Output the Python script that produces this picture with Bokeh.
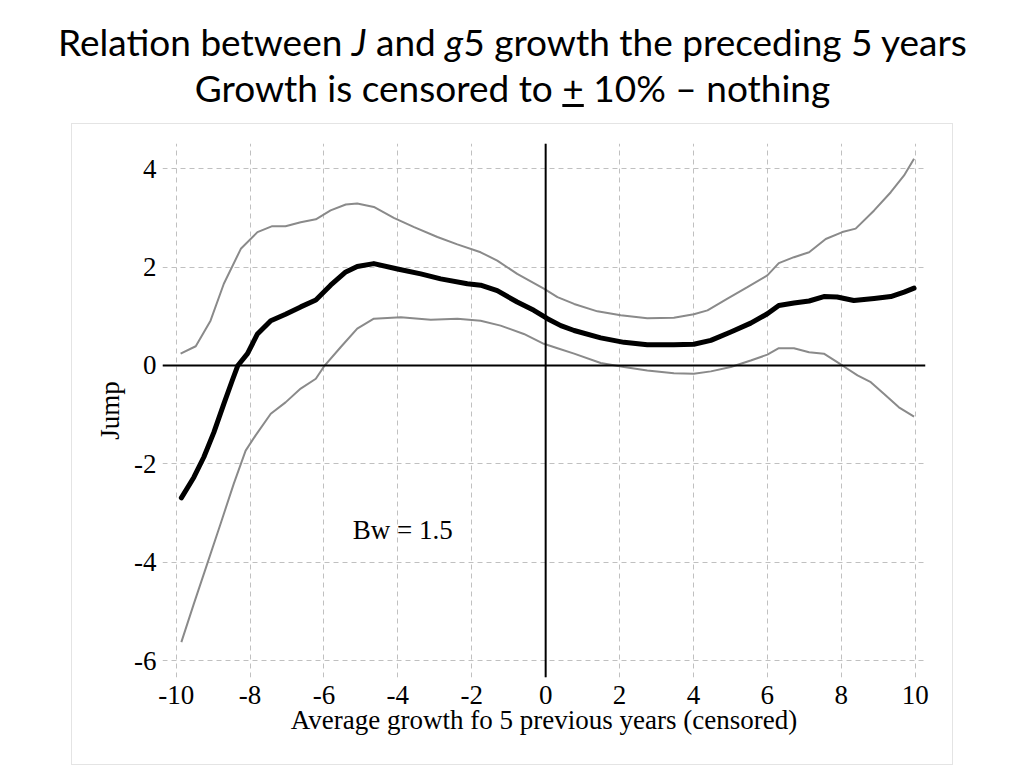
from bokeh.embed import file_html
from bokeh.resources import INLINE
from bokeh.layouts import column
from bokeh.models import Div, Range1d, FixedTicker, Span, Label
from bokeh.plotting import figure

# growth (x) -> jump estimate with upper / lower bands
upper_x = [-9.88, -9.47, -9.07, -8.71, -8.25, -7.80, -7.40, -7.04, -6.63, -6.22, -5.82, -5.41,
           -5.10, -4.65, -4.11, -3.56, -2.93, -2.39, -1.76, -1.31, -0.77, -0.05, 0.32, 0.77,
           1.40, 2.03, 2.75, 3.47, 4.01, 4.38, 4.92, 5.46, 6.00, 6.31, 6.72, 7.13, 7.58, 8.03,
           8.39, 8.89, 9.34, 9.70, 9.97]
upper_y = [0.24, 0.39, 0.91, 1.66, 2.37, 2.71, 2.83, 2.83, 2.91, 2.97, 3.15, 3.27,
           3.29, 3.22, 3.00, 2.81, 2.61, 2.46, 2.30, 2.13, 1.86, 1.56, 1.39, 1.25,
           1.10, 1.02, 0.96, 0.97, 1.04, 1.12, 1.36, 1.59, 1.83, 2.08, 2.20, 2.30, 2.57, 2.71,
           2.78, 3.15, 3.52, 3.86, 4.20]

jump_x = [-9.86, -9.52, -9.25, -8.98, -8.71, -8.48, -8.33, -8.07, -7.80, -7.44, -7.04, -6.63,
          -6.22, -5.82, -5.41, -5.10, -4.65, -4.01, -3.38, -2.84, -2.12, -1.76, -1.31, -0.77,
          -0.32, 0.05, 0.41, 0.77, 1.49, 2.12, 2.75, 3.47, 4.01, 4.47, 5.01, 5.55, 6.00, 6.31,
          6.72, 7.13, 7.53, 7.89, 8.34, 8.89, 9.34, 9.70, 9.97]
jump_y = [-2.69, -2.27, -1.86, -1.36, -0.78, -0.30, 0.00, 0.24, 0.64, 0.91, 1.04, 1.19,
          1.33, 1.63, 1.90, 2.01, 2.07, 1.96, 1.86, 1.76, 1.66, 1.63, 1.52, 1.29,
          1.12, 0.95, 0.81, 0.71, 0.56, 0.47, 0.42, 0.42, 0.43, 0.51, 0.68, 0.86, 1.05, 1.22,
          1.27, 1.31, 1.40, 1.39, 1.32, 1.36, 1.40, 1.49, 1.57]

lower_x = [-9.86, -9.52, -9.16, -8.80, -8.44, -8.12, -7.85, -7.44, -7.04, -6.63, -6.22, -6.00,
           -5.55, -5.10, -4.65, -3.92, -3.11, -2.39, -1.76, -1.22, -0.59, -0.05, 0.32, 0.77,
           1.49, 2.12, 2.75, 3.47, 4.01, 4.47, 5.01, 5.55, 6.00, 6.31, 6.72, 7.13, 7.53, 8.03,
           8.44, 8.80, 9.16, 9.56, 9.97]
lower_y = [-5.62, -4.84, -4.03, -3.22, -2.40, -1.73, -1.42, -0.98, -0.75, -0.47, -0.27, -0.02,
           0.37, 0.75, 0.95, 0.98, 0.93, 0.95, 0.91, 0.81, 0.64, 0.44, 0.35, 0.24,
           0.05, -0.03, -0.10, -0.16, -0.17, -0.12, -0.03, 0.10, 0.22, 0.35, 0.35, 0.27, 0.24, 0.00,
           -0.20, -0.34, -0.58, -0.85, -1.04]

x_ticks = [-10, -8, -6, -4, -2, 0, 2, 4, 6, 8, 10]
y_ticks = [-6, -4, -2, 0, 2, 4]

serif = "Liberation Serif"

title = Div(
    text=('<div style="font-family:Lato; font-size:37px; line-height:46px; width:1008px; '
          'box-sizing:border-box; padding-left:7px; padding-top:14px; '
          'text-align:center; color:#000; white-space:nowrap;">'
          'Relation between <i>J</i> and <i>g</i>5 growth the preceding 5 years<br>'
          'Growth is censored to <u>+</u> 10% \u2013 nothing</div>'),
    width=1008, height=114)

p = figure(width=880, height=640, x_range=Range1d(-10.37, 10.28), y_range=Range1d(-6.34, 4.51),
           output_backend="svg", toolbar_location=None,
           min_border_left=90, min_border_right=27, min_border_top=19, min_border_bottom=87,
           margin=(0, 0, 0, 72))
p.styles = {"outline": "1px solid #e4e4e4"}
p.outline_line_color = None
p.background_fill_color = "white"
p.border_fill_color = "white"

p.xaxis.ticker = FixedTicker(ticks=x_ticks)
p.yaxis.ticker = FixedTicker(ticks=y_ticks)
p.xaxis.major_label_overrides = {t: str(t) for t in x_ticks}
p.yaxis.major_label_overrides = {t: str(t) for t in y_ticks}
for ax in (p.xaxis, p.yaxis):
    ax.axis_line_color = None
    ax.major_tick_line_color = None
    ax.minor_tick_line_color = None
    ax.major_label_text_font = serif
    ax.major_label_text_font_size = "27px"
    ax.major_label_text_color = "black"
    ax.axis_label_text_font = serif
    ax.axis_label_text_font_size = "27px"
    ax.axis_label_text_font_style = "normal"
    ax.axis_label_text_color = "black"
p.xaxis.axis_label = "Average growth fo 5 previous years (censored)"
p.yaxis.axis_label = "Jump"
p.xaxis.major_label_standoff = 2
p.yaxis.major_label_standoff = 0
p.xaxis.axis_label_standoff = -2
p.yaxis.axis_label_standoff = 6

p.grid.grid_line_color = "#c0c0c0"
p.grid.grid_line_dash = "5 4"
p.grid.grid_line_width = 1
p.xgrid.ticker = FixedTicker(ticks=x_ticks)
p.ygrid.ticker = FixedTicker(ticks=y_ticks)

p.add_layout(Span(location=0, dimension="width", line_color="black", line_width=2))
p.add_layout(Span(location=0, dimension="height", line_color="black", line_width=2))

p.line(upper_x, upper_y, line_color="#8a8a8a", line_width=2)
p.line(lower_x, lower_y, line_color="#8a8a8a", line_width=2)
p.line(jump_x, jump_y, line_color="black", line_width=5, line_join="round", line_cap="round")

p.add_layout(Label(x=-5.22, y=-3.35, text="Bw = 1.5", text_font=serif, text_font_size="27px",
                   text_color="black", text_baseline="alphabetic"))

layout = column(title, p)
open("out.html", "w").write(file_html(layout, INLINE))
